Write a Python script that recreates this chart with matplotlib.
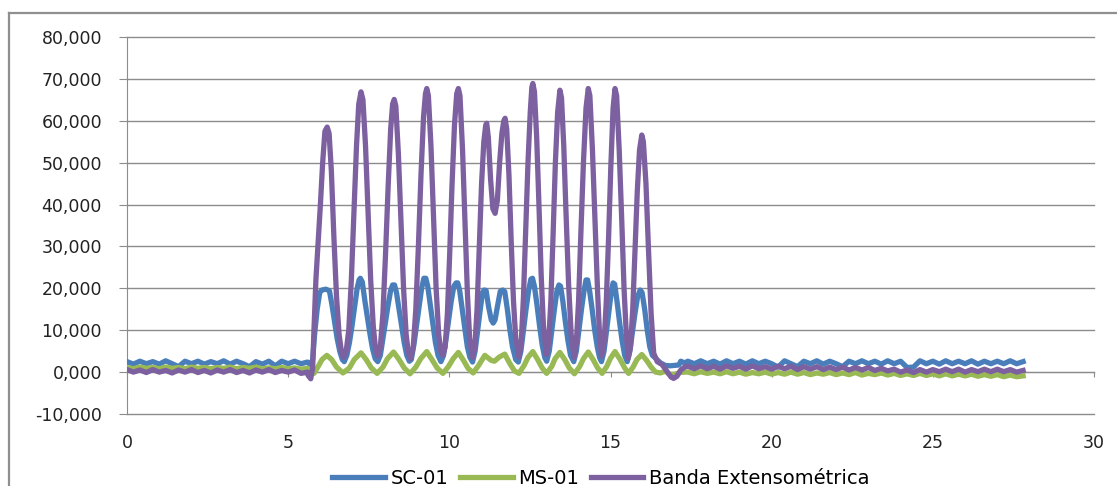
import numpy as np
import matplotlib
matplotlib.use('Agg')
import matplotlib.pyplot as plt
from matplotlib.lines import Line2D

# --- data ---
# quiet stretch before the loading, samples 0 .. 5.6 s
sc01_pre = [2.5, 1.9, 2.6, 2.0, 2.5, 1.9, 2.7, 2.0, 1.3, 2.6, 2.0, 2.6, 1.9, 2.5, 2.0,
            2.7, 1.9, 2.6, 2.0, 1.3, 2.5, 1.9, 2.6, 1.5, 2.6, 2.0, 2.6, 2.0, 2.4]
ms01_pre = [1.1, 0.8, 1.2, 0.9, 1.1, 0.8, 1.2, 0.9, 1.1, 0.8, 1.2, 0.9, 1.1, 0.8, 1.1,
            0.9, 1.2, 0.8, 1.1, 0.9, 1.2, 0.8, 1.0, 0.8, 1.1, 0.8, 1.0, 0.7, 0.9]
banda_pre = [0.6, 0.0, 0.5, -0.1, 0.6, 0.0, 0.4, -0.2, 0.5, 0.0, 0.6, -0.1, 0.4, -0.2, 0.5,
             0.0, 0.6, -0.1, 0.4, -0.2, 0.5, 0.0, 0.6, -0.1, 0.4, 0.0, 0.5, -0.3, 0.0]

# loading cycles
sc01_t = [5.62, 5.70, 5.76, 5.82, 5.90, 5.98, 6.05, 6.17, 6.28, 6.36, 6.44, 6.52, 6.60, 6.68,
          6.74, 6.82, 6.90, 6.98, 7.06, 7.14, 7.20, 7.24, 7.30, 7.38, 7.46, 7.54, 7.62, 7.70,
          7.78, 7.86, 7.94, 8.02, 8.10, 8.18, 8.24, 8.30, 8.36, 8.44, 8.52, 8.60, 8.68, 8.76,
          8.82, 8.90, 8.98, 9.06, 9.14, 9.21, 9.27, 9.33, 9.41, 9.49, 9.57, 9.65, 9.74, 9.82,
          9.90, 9.98, 10.06, 10.14, 10.21, 10.26, 10.32, 10.40, 10.48, 10.56, 10.64, 10.72,
          10.80, 10.88, 10.96, 11.03, 11.08, 11.14, 11.22, 11.30, 11.36, 11.42, 11.50, 11.58,
          11.66, 11.72, 11.80, 11.88, 11.96, 12.06, 12.14, 12.22, 12.30, 12.38, 12.46, 12.53,
          12.58, 12.64, 12.72, 12.80, 12.88, 12.96, 13.02, 13.10, 13.18, 13.26, 13.34, 13.40,
          13.45, 13.52, 13.60, 13.68, 13.76, 13.86, 13.94, 14.02, 14.10, 14.18, 14.24, 14.29,
          14.35, 14.43, 14.51, 14.59, 14.66, 14.72, 14.80, 14.88, 14.96, 15.03, 15.08, 15.13,
          15.20, 15.28, 15.36, 15.44, 15.52, 15.60, 15.68, 15.76, 15.84, 15.92, 15.98, 16.06,
          16.14, 16.22, 16.30, 16.40, 16.55, 16.70, 16.85, 17.00, 17.12, 17.18, 17.30]
sc01_v = [2.2, 1.8, 3.0, 9.0, 15.0, 19.0, 19.6, 19.8, 19.4, 16.0, 12.0, 8.0, 5.0, 3.0,
          2.5, 4.0, 7.0, 11.0, 15.5, 20.0, 22.0, 22.4, 21.5, 17.0, 13.0, 9.0, 5.5, 3.2,
          2.5, 4.0, 8.0, 12.0, 16.0, 19.5, 20.8, 20.8, 19.0, 15.0, 11.0, 7.0, 4.0, 2.6,
          3.0, 6.5, 11.0, 15.5, 20.0, 22.4, 22.4, 20.5, 16.0, 11.5, 7.0, 4.0, 2.5, 4.0,
          8.0, 12.5, 17.0, 20.5, 21.3, 21.3, 19.5, 15.0, 10.5, 6.0, 3.5, 2.4,
          5.0, 10.0, 15.0, 19.0, 19.6, 19.5, 15.5, 12.5, 11.7, 12.5, 16.0, 19.3,
          19.6, 19.2, 15.0, 10.0, 6.0, 3.0, 2.4, 5.0, 10.0, 15.0, 19.5, 22.2,
          22.4, 20.5, 16.0, 11.0, 6.5, 3.5, 2.6, 5.0, 10.0, 15.0, 19.5, 20.8,
          20.5, 17.0, 12.0, 7.5, 4.0, 2.5, 5.0, 10.0, 15.0, 19.5, 22.0, 22.0,
          19.5, 15.0, 10.0, 6.0, 3.5, 2.5, 5.0, 10.0, 15.0, 19.5, 21.3, 21.0,
          17.0, 12.0, 7.5, 4.0, 2.5, 5.0, 9.5, 14.0, 18.0, 19.6, 19.0, 15.0,
          10.0, 6.0, 4.0, 3.3, 2.2, 1.6, 1.5, 1.6, 1.7, 2.6, 2.2]

ms01_t = [5.62, 5.72, 5.80, 5.92, 6.05, 6.20, 6.35, 6.50, 6.70, 6.90, 7.05, 7.26, 7.42, 7.58,
          7.76, 7.94, 8.08, 8.27, 8.44, 8.60, 8.78, 8.96, 9.12, 9.30, 9.46, 9.62, 9.80, 9.96,
          10.12, 10.28, 10.44, 10.58, 10.74, 10.90, 11.10, 11.30, 11.40, 11.55, 11.72, 11.88,
          12.02, 12.16, 12.32, 12.44, 12.59, 12.74, 12.88, 13.02, 13.18, 13.28, 13.43, 13.58,
          13.72, 13.88, 14.04, 14.16, 14.31, 14.46, 14.60, 14.74, 14.88, 15.00, 15.14, 15.30,
          15.44, 15.56, 15.70, 15.82, 15.97, 16.12, 16.26, 16.40, 16.55, 16.70, 16.85, 17.00,
          17.15, 17.30]
ms01_v = [0.6, 0.0, -0.3, 1.2, 3.0, 4.0, 3.0, 1.2, -0.2, 1.0, 3.0, 4.6, 3.0, 1.0,
          -0.3, 1.2, 3.2, 4.8, 3.0, 1.0, -0.4, 1.2, 3.3, 4.9, 3.0, 1.0, -0.3, 1.2,
          3.2, 4.7, 2.8, 0.9, -0.2, 1.5, 4.0, 2.8, 2.6, 3.6, 4.3, 2.0,
          0.3, -0.3, 1.6, 3.5, 4.9, 3.0, 1.0, -0.3, 1.4, 3.2, 4.7, 3.0,
          1.0, -0.4, 1.3, 3.2, 4.8, 3.0, 1.0, -0.3, 1.3, 3.3, 4.9, 3.0,
          1.0, -0.3, 1.2, 3.0, 4.2, 2.8, 1.2, 0.0, -0.2, 0.2, -0.6, -0.5,
          -0.1, 0.0]

banda_t = [5.62, 5.70, 5.76, 5.80, 5.86, 5.93, 6.00, 6.07, 6.14, 6.21, 6.27, 6.34, 6.42, 6.50,
           6.58, 6.65, 6.72, 6.80, 6.88, 6.96, 7.04, 7.12, 7.19, 7.26, 7.32, 7.40, 7.48, 7.56,
           7.64, 7.71, 7.78, 7.86, 7.94, 8.02, 8.10, 8.18, 8.24, 8.29, 8.34, 8.42, 8.50, 8.58,
           8.66, 8.73, 8.80, 8.88, 8.96, 9.04, 9.12, 9.20, 9.26, 9.30, 9.35, 9.43, 9.51, 9.59,
           9.67, 9.74, 9.80, 9.87, 9.94, 10.01, 10.08, 10.16, 10.23, 10.28, 10.33, 10.41, 10.49,
           10.56, 10.63, 10.72, 10.79, 10.86, 10.93, 11.00, 11.07, 11.13, 11.16, 11.21, 11.28,
           11.35, 11.42, 11.49, 11.56, 11.63, 11.69, 11.73, 11.78, 11.85, 11.92, 11.99, 12.06,
           12.16, 12.23, 12.30, 12.37, 12.44, 12.51, 12.56, 12.59, 12.64, 12.71, 12.78, 12.85,
           12.92, 13.01, 13.08, 13.15, 13.22, 13.29, 13.36, 13.43, 13.48, 13.55, 13.62, 13.70,
           13.78, 13.87, 13.94, 14.01, 14.08, 14.16, 14.24, 14.31, 14.36, 14.44, 14.52, 14.60,
           14.66, 14.72, 14.80, 14.87, 14.94, 15.01, 15.08, 15.14, 15.19, 15.27, 15.35, 15.42,
           15.49, 15.55, 15.62, 15.69, 15.76, 15.83, 15.90, 15.97, 16.02, 16.10, 16.18, 16.26,
           16.34, 16.45, 16.60, 16.75, 16.88, 16.96, 17.06, 17.18, 17.30]
banda_v = [-0.8, -1.6, 1.0, 10.0, 22.0, 31.0, 40.0, 50.0, 57.5, 58.5, 57.0, 48.0, 32.0, 18.0,
           9.0, 5.0, 3.5, 5.0, 10.0, 22.0, 38.0, 54.0, 64.0, 66.9, 65.0, 54.0, 38.0, 22.0,
           11.0, 5.5, 3.8, 6.0, 14.0, 28.0, 44.0, 58.0, 64.0, 65.1, 63.5, 52.0, 36.0, 20.0,
           9.0, 4.5, 3.2, 6.0, 15.0, 30.0, 47.0, 61.0, 66.5, 67.7, 66.0, 54.0, 37.0, 20.0,
           9.0, 4.8, 4.0, 6.0, 14.0, 28.0, 44.0, 59.0, 66.5, 67.7, 66.0, 53.0, 35.0,
           19.0, 8.0, 3.5, 6.0, 15.0, 30.0, 45.0, 55.0, 59.0, 59.4, 56.0, 46.0,
           39.0, 37.9, 41.0, 50.0, 57.0, 60.0, 60.6, 58.0, 47.0, 31.0, 17.0, 8.0,
           3.6, 7.0, 18.0, 34.0, 50.0, 62.0, 68.0, 68.9, 67.0, 56.0, 40.0, 23.0,
           11.0, 4.2, 7.0, 17.0, 33.0, 50.0, 62.0, 67.3, 65.5, 54.0, 38.0, 21.0,
           9.0, 3.5, 7.0, 17.0, 33.0, 50.0, 63.0, 67.7, 66.0, 53.0, 36.0, 19.0,
           9.0, 3.8, 7.0, 17.0, 32.0, 49.0, 63.0, 67.7, 66.0, 53.0, 36.0, 20.0,
           9.0, 3.3, 6.0, 15.0, 29.0, 43.0, 53.0, 56.6, 55.0, 45.0, 29.0, 14.0,
           4.5, 2.5, 1.8, 0.2, -1.2, -1.5, -1.0, 0.5, 1.2]

# quiet stretch after the loading, samples 17.4 .. 27.8 s
sc01_post = [2.6, 2.0, 2.7, 2.0, 2.6, 1.9, 2.7, 2.0, 2.6, 1.9, 2.7, 2.0, 2.6, 2.0, 1.2,
             2.7, 2.0, 1.3, 2.6, 2.0, 2.7, 1.9, 2.6, 2.0, 1.3, 2.6, 2.0, 2.7, 2.0, 2.6,
             1.9, 2.7, 2.0, 2.6, 1.1, 1.2, 2.7, 2.0, 2.6, 1.9, 2.7, 2.0, 2.6, 2.0, 2.7,
             1.9, 2.6, 2.0, 2.6, 2.0, 2.7, 2.0, 2.5]
ms01_post = [0.0, -0.4, 0.1, -0.3, 0.0, -0.4, 0.1, -0.4, 0.0, -0.5, -0.1, -0.4, 0.0, -0.5, -0.1,
             -0.5, 0.0, -0.5, -0.1, -0.6, -0.2, -0.5, -0.1, -0.6, -0.2, -0.6, -0.1, -0.7, -0.3, -0.6,
             -0.2, -0.7, -0.3, -0.8, -0.4, -0.8, -0.3, -0.8, -0.4, -0.9, -0.4, -0.9, -0.5, -0.9, -0.5,
             -1.0, -0.6, -1.0, -0.6, -1.1, -0.7, -1.1, -0.9]
banda_post = [1.4, 0.8, 1.5, 0.8, 1.4, 0.7, 1.5, 0.9, 1.4, 0.7, 1.5, 0.8, 1.3, 0.7, 1.4,
              0.8, 1.4, 0.6, 1.3, 0.7, 1.3, 0.6, 1.2, 0.6, 1.2, 0.5, 1.1, 0.5, 1.1, 0.4,
              0.9, 0.3, 0.7, 0.0, 0.5, -0.1, 0.6, 0.0, 0.6, 0.1, 0.7, 0.1, 0.7, 0.0, 0.6,
              0.1, 0.7, 0.1, 0.7, 0.1, 0.6, 0.0, 0.4]

names = ['SC-01', 'MS-01', 'Banda Extensométrica']
colors = ['#4A7EBB', '#98B954', '#7D60A0']


def series(pre, t, v, post):
    x = np.concatenate([np.linspace(0, 5.6, len(pre)), t, np.linspace(17.4, 27.8, len(post))])
    y = np.concatenate([pre, v, post])
    return x, y


def fmt(val):
    return f'{val:.3f}'.replace('.', ',')


W, H = 1117, 486
fig = plt.figure(figsize=(W / 100, H / 100), dpi=100)
ax = fig.add_axes([127 / W, 1 - 414 / H, (1094 - 127) / W, (414 - 37) / H])

data = [series(sc01_pre, sc01_t, sc01_v, sc01_post),
        series(ms01_pre, ms01_t, ms01_v, ms01_post),
        series(banda_pre, banda_t, banda_v, banda_post)]
for (x, y), name, c in zip(data, names, colors):
    ax.plot(x, y, color=c, lw=3.8, label=name, solid_joinstyle='round', zorder=3)

ax.set_xlim(0, 30)
ax.set_ylim(-10, 80)
yt = list(range(-10, 81, 10))
ax.set_yticks(yt)
ax.set_yticklabels([fmt(v) for v in yt])
ax.set_xticks(range(0, 31, 5))
ax.yaxis.grid(True, color='#8c8c8c', lw=1.0)
for gl in ax.get_ygridlines():
    gl.set_clip_on(False)
ax.set_axisbelow(True)

for s in ['top', 'right']:
    ax.spines[s].set_visible(False)
ax.spines['left'].set_color('#8c8c8c')
ax.spines['bottom'].set_color('#8c8c8c')
ax.spines['bottom'].set_position(('data', 0))
ax.spines['bottom'].set_zorder(1)
ax.tick_params(axis='y', length=6, color='#8c8c8c', pad=12, labelsize=12.5, labelcolor='#222222')
ax.tick_params(axis='x', length=3.5, color='#8c8c8c', pad=41, labelsize=12.5, labelcolor='#222222')

# chart frame
fig.add_artist(Line2D([9.5 / W, 9.5 / W], [0, 1 - 13 / H], color='#8f8f8f', lw=1.6))
fig.add_artist(Line2D([9 / W, 1], [1 - 13 / H, 1 - 13 / H], color='#8f8f8f', lw=1.6))

fig.legend(loc='center', bbox_to_anchor=(601 / W, 1 - 478 / H), ncol=3, frameon=False,
           fontsize=14, handlelength=2.7, handletextpad=0.3, columnspacing=0.6)

fig.savefig('out.png', dpi=100)
